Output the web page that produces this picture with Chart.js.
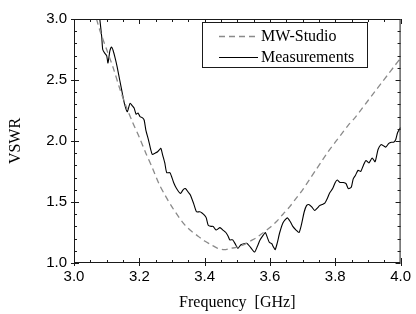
<!DOCTYPE html>
<html>
<head>
<meta charset="utf-8">
<script src="https://cdn.jsdelivr.net/npm/chart.js@4.4.0/dist/chart.umd.min.js"></script>
<style>
  body { margin: 0; background: #fff; }
  canvas { display: block; }
</style>
</head>
<body>
<canvas id="vswrChart" width="416" height="314"></canvas>
<script>
// simulated curve (MW-Studio)
const simFreq = [3.06, 3.069, 3.08, 3.10, 3.12, 3.14, 3.16, 3.18, 3.20, 3.22, 3.24, 3.26, 3.28, 3.30, 3.32, 3.34, 3.36, 3.38, 3.40, 3.42, 3.44, 3.46, 3.48, 3.50, 3.52, 3.54, 3.56, 3.58, 3.60, 3.62, 3.64, 3.66, 3.68, 3.70, 3.72, 3.74, 3.76, 3.78, 3.80, 3.82, 3.84, 3.86, 3.88, 3.90, 3.92, 3.94, 3.96, 3.98, 4.00];
const simVswr = [3.08, 3.00, 2.90, 2.75, 2.60, 2.43, 2.28, 2.15, 2.03, 1.90, 1.78, 1.65, 1.55, 1.46, 1.38, 1.31, 1.26, 1.22, 1.18, 1.15, 1.12, 1.11, 1.12, 1.13, 1.15, 1.18, 1.21, 1.25, 1.29, 1.34, 1.40, 1.46, 1.53, 1.60, 1.68, 1.76, 1.84, 1.92, 1.99, 2.06, 2.13, 2.19, 2.26, 2.33, 2.40, 2.47, 2.54, 2.61, 2.68];

// measured curve
const measFreq = [3.075, 3.079, 3.085, 3.088, 3.094, 3.100, 3.104, 3.110, 3.115, 3.120, 3.126, 3.132, 3.140, 3.148, 3.155, 3.163, 3.168, 3.172, 3.178, 3.184, 3.190, 3.196, 3.202, 3.210, 3.215, 3.220, 3.228, 3.235, 3.240, 3.248, 3.255, 3.262, 3.266, 3.272, 3.278, 3.284, 3.294, 3.305, 3.314, 3.326, 3.334, 3.341, 3.350, 3.356, 3.366, 3.375, 3.385, 3.392, 3.400, 3.405, 3.411, 3.420, 3.426, 3.435, 3.447, 3.456, 3.465, 3.472, 3.477, 3.486, 3.495, 3.502, 3.511, 3.523, 3.530, 3.540, 3.553, 3.562, 3.570, 3.580, 3.586, 3.592, 3.598, 3.605, 3.611, 3.616, 3.622, 3.630, 3.640, 3.653, 3.662, 3.670, 3.680, 3.689, 3.696, 3.705, 3.712, 3.719, 3.728, 3.737, 3.745, 3.752, 3.760, 3.768, 3.776, 3.782, 3.792, 3.800, 3.806, 3.815, 3.825, 3.833, 3.840, 3.849, 3.855, 3.862, 3.870, 3.878, 3.886, 3.894, 3.903, 3.913, 3.922, 3.931, 3.940, 3.948, 3.955, 3.964, 3.972, 3.979, 3.985, 3.991, 4.000];
const measVswr = [3.10, 3.00, 2.85, 2.75, 2.72, 2.70, 2.64, 2.74, 2.77, 2.74, 2.68, 2.61, 2.50, 2.39, 2.30, 2.24, 2.28, 2.31, 2.29, 2.27, 2.22, 2.23, 2.20, 2.19, 2.17, 2.09, 2.01, 1.93, 1.89, 1.90, 1.91, 1.93, 1.94, 1.88, 1.82, 1.74, 1.74, 1.66, 1.61, 1.57, 1.60, 1.61, 1.58, 1.56, 1.49, 1.42, 1.42, 1.41, 1.39, 1.37, 1.31, 1.30, 1.30, 1.27, 1.29, 1.27, 1.25, 1.22, 1.19, 1.19, 1.15, 1.12, 1.15, 1.16, 1.16, 1.13, 1.09, 1.14, 1.19, 1.23, 1.25, 1.21, 1.17, 1.16, 1.13, 1.11, 1.16, 1.25, 1.33, 1.37, 1.34, 1.30, 1.27, 1.25, 1.31, 1.42, 1.47, 1.48, 1.46, 1.43, 1.45, 1.47, 1.48, 1.49, 1.53, 1.57, 1.61, 1.66, 1.68, 1.66, 1.66, 1.65, 1.61, 1.62, 1.69, 1.72, 1.76, 1.75, 1.80, 1.84, 1.82, 1.86, 1.83, 1.93, 1.97, 1.96, 1.95, 1.98, 1.99, 1.99, 2.01, 2.07, 2.11];

const seriesNames = ['MW-Studio', 'Measurements'];
const xTicks = [3.0, 3.2, 3.4, 3.6, 3.8, 4.0];
const yTicks = [1.0, 1.5, 2.0, 2.5, 3.0];

function toPoints(xs, ys) {
  return xs.map(function (x, i) { return { x: x, y: ys[i] }; });
}

// frame, inward ticks and the boxed legend
const framePlugin = {
  id: 'frame',
  afterDraw: function (chart) {
    const c = chart.ctx;
    const a = chart.chartArea;
    const xs = chart.scales.x;
    const ys = chart.scales.y;
    c.save();
    c.strokeStyle = '#1a1a1a';
    c.lineWidth = 1;
    c.strokeRect(a.left + 0.5, a.top + 0.5, a.right - a.left - 1, a.bottom - a.top - 1);

    c.beginPath();
    for (let f = 3.0; f <= 4.0001; f += 0.05) {
      const px = Math.round(xs.getPixelForValue(f)) + 0.5;
      const major = Math.abs(f * 5 - Math.round(f * 5)) < 0.001;
      const len = major ? 5 : 3;
      c.moveTo(px, a.bottom + (major ? 3 : 0)); c.lineTo(px, a.bottom - len);
      c.moveTo(px, a.top); c.lineTo(px, a.top + len);
    }
    for (let v = 1.0; v <= 3.0001; v += 0.1) {
      const py = Math.round(ys.getPixelForValue(v)) + 0.5;
      const major = Math.abs(v * 2 - Math.round(v * 2)) < 0.001;
      const len = major ? 5 : 3;
      c.moveTo(a.left - (major ? 3 : 0), py); c.lineTo(a.left + len, py);
      c.moveTo(a.right, py); c.lineTo(a.right - len, py);
    }
    c.stroke();

    // legend
    const bx = 202, by = 22, bw = 165, bh = 45;
    c.fillStyle = '#fff';
    c.fillRect(bx, by, bw, bh);
    c.strokeRect(bx + 0.5, by + 0.5, bw, bh);
    c.font = '16px "Liberation Serif", "Times New Roman", serif';
    c.textBaseline = 'middle';
    c.fillStyle = '#000';

    c.beginPath();
    c.setLineDash([6, 4]);
    c.strokeStyle = '#8a8a8a';
    c.lineWidth = 1.3;
    c.moveTo(219, 36.5); c.lineTo(258, 36.5);
    c.stroke();
    c.setLineDash([]);
    c.fillText(seriesNames[0], 261, 37);

    c.beginPath();
    c.strokeStyle = '#000';
    c.lineWidth = 1;
    c.moveTo(219, 57.5); c.lineTo(258, 57.5);
    c.stroke();
    c.fillText(seriesNames[1], 261, 58);
    c.restore();
  }
};

const ctx = document.getElementById('vswrChart').getContext('2d');
const vswrChart = new Chart(ctx, {
  type: 'line',
  data: {
    datasets: [{
      label: seriesNames[0],
      data: toPoints(simFreq, simVswr),
      borderColor: '#8a8a8a',
      borderWidth: 1.3,
      borderDash: [6, 4],
      pointRadius: 0,
      tension: 0.3,
      fill: false
    }, {
      label: seriesNames[1],
      data: toPoints(measFreq, measVswr),
      borderColor: '#000',
      borderWidth: 1.1,
      pointRadius: 0,
      tension: 0.2,
      fill: false
    }]
  },
  options: {
    responsive: false,
    animation: false,
    layout: { padding: { top: 19, right: 11, left: 0, bottom: 0 } },
    plugins: {
      legend: { display: false },
      tooltip: { enabled: false }
    },
    scales: {
      x: {
        type: 'linear',
        min: 3.0,
        max: 4.0,
        afterBuildTicks: function (scale) {
          scale.ticks = xTicks.map(function (v) { return { value: v }; });
        },
        afterFit: function (scale) { scale.height = 51; },
        grid: { display: false, drawTicks: false },
        border: { display: false },
        ticks: {
          padding: 5,
          color: '#000',
          font: { family: '"Liberation Sans", Arial, sans-serif', size: 15 },
          callback: function (v) { return v.toFixed(1); },
          maxRotation: 0
        },
        title: {
          display: true,
          text: 'Frequency  [GHz]',
          color: '#000',
          font: { family: '"Liberation Serif", "Times New Roman", serif', size: 16 },
          padding: { top: 0, bottom: 2 }
        }
      },
      y: {
        type: 'linear',
        min: 1.0,
        max: 3.0,
        afterBuildTicks: function (scale) {
          scale.ticks = yTicks.map(function (v) { return { value: v }; });
        },
        afterFit: function (scale) { scale.width = 74; },
        grid: { display: false, drawTicks: false },
        border: { display: false },
        ticks: {
          padding: 7,
          color: '#000',
          font: { family: '"Liberation Sans", Arial, sans-serif', size: 15 },
          callback: function (v) { return v.toFixed(1); }
        },
        title: {
          display: true,
          text: 'VSWR',
          color: '#000',
          font: { family: '"Liberation Serif", "Times New Roman", serif', size: 16 },
          padding: { top: 6, bottom: 0 }
        }
      }
    }
  },
  plugins: [framePlugin]
});
</script>
</body>
</html>
